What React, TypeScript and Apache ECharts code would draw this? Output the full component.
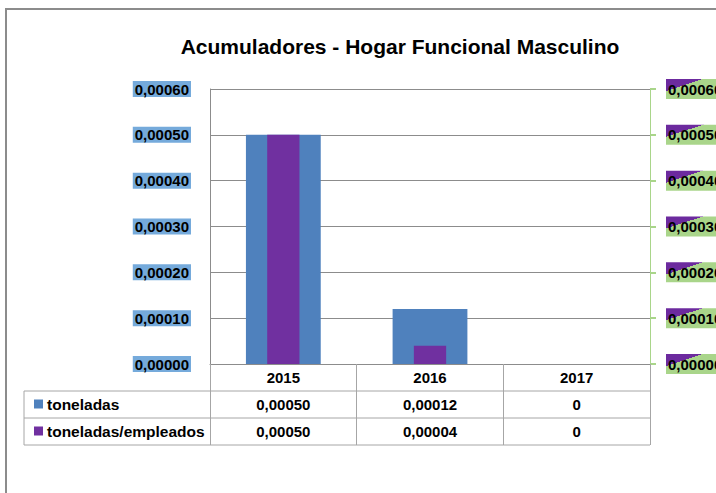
import React, { useEffect, useRef } from "react";
import * as echarts from "echarts";

const categories = ["2015", "2016", "2017"];
const toneladas = [0.0005, 0.00012, 0];
const toneladasEmpleados = [0.0005, 0.00004, 0];
const seriesNames = ["toneladas", "toneladas/empleados"];
const titleText = "Acumuladores - Hogar Funcional Masculino";

const fmt = (v: number) => (v === 0 ? "0" : v.toFixed(5).replace(".", ","));
const FONT = "'Liberation Sans', Arial, sans-serif";
const BLUE = "#4f81bd";
const PURPLE = "#7030a0";
const GRAY = "#8c8c8c";

export default function App() {
  const ref = useRef<HTMLDivElement>(null);
  useEffect(() => {
    if (!ref.current) return;
    const chart = echarts.init(ref.current, null, { renderer: "svg" });
    const gridLeft = 210, gridRight = 650, gridTop = 89, gridBottom = 364;
    const rowH = 27;
    const tableLeft = 24;
    const hidden = {
      axisLine: { show: false },
      axisTick: { show: false },
      splitLine: { show: false },
    };
    const tableLabel = {
      fontFamily: FONT,
      fontWeight: "bold" as const,
      fontSize: 15,
      color: "#000",
      margin: 6,
    };
    const rightBg = new echarts.graphic.LinearGradient(0, 0, 0.6, 0.62, [
      { offset: 0, color: "#6c2a9e" },
      { offset: 0.5, color: "#6c2a9e" },
      { offset: 0.5, color: "#a9d58a" },
      { offset: 1, color: "#a9d58a" },
    ]);
    const lines: any[] = [];
    [1, 2, 3].forEach((i) => {
      lines.push({
        type: "line",
        shape: { x1: tableLeft, y1: gridBottom + i * rowH, x2: gridRight, y2: gridBottom + i * rowH },
        style: { stroke: "#a6a6a6", lineWidth: 1 },
      });
    });
    lines.push({
      type: "line",
      shape: { x1: tableLeft, y1: gridBottom + rowH, x2: tableLeft, y2: gridBottom + 3 * rowH },
      style: { stroke: "#a6a6a6", lineWidth: 1 },
    });
    const rowColors = [BLUE, PURPLE];
    seriesNames.forEach((n, i) => {
      const cy = gridBottom + rowH * (i + 1) + rowH / 2;
      lines.push({
        type: "rect",
        shape: { x: 34, y: cy - 5, width: 9, height: 9 },
        style: { fill: rowColors[i] },
      });
      lines.push({
        type: "text",
        x: 47,
        y: cy,
        style: {
          text: n,
          font: `bold 15.5px ${FONT}`,
          fill: "#000",
          verticalAlign: "middle",
        },
      });
    });

    chart.setOption({
      animation: false,
      backgroundColor: "#fff",
      graphic: [
        {
          type: "rect",
          shape: { x: 6, y: 9, width: 800, height: 600 },
          style: { fill: "none", stroke: GRAY, lineWidth: 2 },
        },
        {
          type: "text",
          x: 400,
          y: 46,
          style: {
            text: titleText,
            font: `bold 21px ${FONT}`,
            fill: "#000",
            align: "center",
            verticalAlign: "middle",
          },
        },
        ...lines,
      ],
      grid: {
        left: gridLeft,
        top: gridTop,
        width: gridRight - gridLeft,
        height: gridBottom - gridTop,
        containLabel: false,
        outerBoundsMode: "none",
      },
      xAxis: [
        {
          type: "category",
          data: categories,
          axisLine: { show: true, lineStyle: { color: GRAY } },
          axisTick: { show: true, length: rowH * 3, lineStyle: { color: "#a6a6a6" } },
          axisLabel: tableLabel,
          splitLine: { show: false },
        },
        { type: "category", data: categories, show: false },
        {
          type: "category",
          data: categories,
          position: "bottom",
          offset: rowH,
          ...hidden,
          axisLabel: { ...tableLabel, formatter: (_v: string, i: number) => fmt(toneladas[i]) },
        },
        {
          type: "category",
          data: categories,
          position: "bottom",
          offset: rowH * 2,
          ...hidden,
          axisLabel: { ...tableLabel, formatter: (_v: string, i: number) => fmt(toneladasEmpleados[i]) },
        },
      ],
      yAxis: [
        {
          type: "value",
          min: 0,
          max: 0.0006,
          interval: 0.0001,
          axisLine: { show: true, lineStyle: { color: GRAY } },
          axisTick: { show: false },
          splitLine: { show: true, lineStyle: { color: GRAY, width: 1 } },
          axisLabel: {
            formatter: (v: number) => v.toFixed(5).replace(".", ","),
            fontFamily: FONT,
            fontWeight: "bold",
            fontSize: 15,
            color: "#000",
            backgroundColor: "#75aadb",
            padding: [1, 2, 0, 2],
            margin: 19,
          },
        },
        {
          type: "value",
          position: "right",
          min: 0,
          max: 0.0006,
          interval: 0.0001,
          axisLine: { show: true, lineStyle: { color: "#a9d58a", width: 1 } },
          axisTick: { show: true, inside: false, length: 6, lineStyle: { color: "#a9d58a", width: 2 } },
          splitLine: { show: false },
          axisLabel: {
            formatter: (v: number) => v.toFixed(5).replace(".", ","),
            fontFamily: FONT,
            fontWeight: "bold",
            fontSize: 15,
            color: "#000",
            backgroundColor: rightBg,
            padding: [3, 3, 2, 2],
            margin: 16,
          },
        },
      ],
      series: [
        {
          name: seriesNames[0],
          type: "bar",
          xAxisIndex: 0,
          yAxisIndex: 0,
          data: toneladas,
          barWidth: "51%",
          itemStyle: { color: BLUE },
        },
        {
          name: seriesNames[1],
          type: "bar",
          xAxisIndex: 1,
          yAxisIndex: 1,
          data: toneladasEmpleados,
          barWidth: "22%",
          itemStyle: { color: PURPLE },
        },
      ],
    });
    return () => chart.dispose();
  }, []);
  return (
    <div
      ref={ref}
      style={{ position: "fixed", left: 0, top: 0, width: 716, height: 493 }}
    />
  );
}
